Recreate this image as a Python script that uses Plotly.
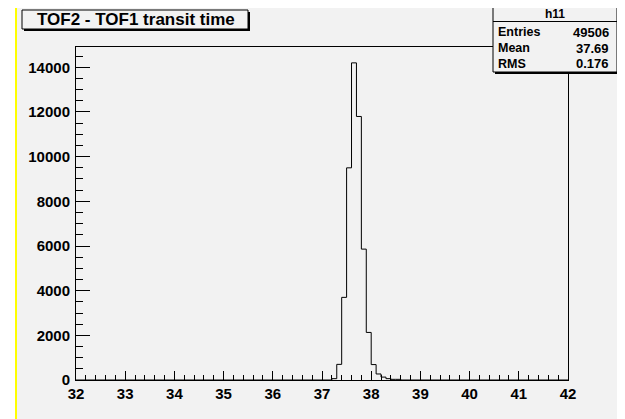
import plotly.graph_objects as go

# ---- data ----
title_text = "TOF2 - TOF1 transit time"
hist_name = "h11"
stats_labels = ["Entries", "Mean", "RMS"]
stats_values = ["49506", "37.69", "0.176"]

x_min, x_max = 32.0, 42.0
bin_width = 0.1
# lower edges of non-empty bins and their contents
bin_low = [37.2, 37.3, 37.4, 37.5, 37.6, 37.7, 37.8, 37.9, 38.0, 38.1, 38.2, 38.3, 38.4, 38.5]
counts = [60, 700, 3700, 9500, 14200, 11800, 5860, 2130, 690, 270, 130, 60, 30, 30]

y_max = max(counts) * 1.05

# ---- build histogram outline (step line) ----
xs = [x_min]
ys = [0]
for lo, c in zip(bin_low, counts):
    xs.append(round(lo, 2))
    ys.append(c)
xs.append(round(bin_low[-1] + bin_width, 2))
ys.append(0)
xs.append(x_max)
ys.append(0)

fig = go.Figure()
fig.add_trace(go.Scatter(x=xs, y=ys, mode="lines", line=dict(shape="hv", color="black", width=1),
                         hoverinfo="skip", showlegend=False))

# ---- layout geometry (window pixels; page body has an 8px margin) ----
OFF = 8
W_FIG, H_FIG = 625 - OFF, 419 - OFF
L, R, T, B = 76, 568, 47, 380   # plot frame in window pixels
PW, PH = R - L, B - T


def px(x):
    return (x - L) / PW


def py(y):
    return (B - y) / PH


BG = "#f2f2f2"
FONT = "Liberation Sans"

shapes = []
# gray pad area
shapes.append(dict(type="rect", xref="paper", yref="paper", x0=px(16), x1=px(640), y0=py(5), y1=py(440),
                   line=dict(width=0), fillcolor=BG, layer="below"))
# yellow pad border (left and top)
shapes.append(dict(type="line", xref="paper", yref="paper", x0=px(16), x1=px(16), y0=py(5), y1=py(440),
                   line=dict(color="#ffff00", width=2)))
shapes.append(dict(type="line", xref="paper", yref="paper", x0=px(16), x1=px(640), y0=py(5), y1=py(5),
                   line=dict(color="#ffff00", width=2)))

# title box with shadow
shapes.append(dict(type="rect", xref="paper", yref="paper", x0=px(24), x1=px(250), y0=py(31), y1=py(12),
                   line=dict(width=0), fillcolor="black"))
shapes.append(dict(type="rect", xref="paper", yref="paper", x0=px(22), x1=px(248), y0=py(29), y1=py(10),
                   line=dict(color="black", width=1), fillcolor=BG))

# stats box with shadow
shapes.append(dict(type="rect", xref="paper", yref="paper", x0=px(495), x1=px(619), y0=py(74), y1=py(8),
                   line=dict(width=0), fillcolor="black"))
shapes.append(dict(type="rect", xref="paper", yref="paper", x0=px(493), x1=px(617), y0=py(72), y1=py(6),
                   line=dict(color="black", width=1), fillcolor=BG))
shapes.append(dict(type="line", xref="paper", yref="paper", x0=px(493), x1=px(617), y0=py(21.5), y1=py(21.5),
                   line=dict(color="black", width=1)))

annotations = []
annotations.append(dict(xref="paper", yref="paper", x=px(136), y=py(19.5), xanchor="center", yanchor="middle",
                        text=title_text, showarrow=False, borderpad=0,
                        font=dict(family=FONT, size=17, color="black", weight="bold")))
annotations.append(dict(xref="paper", yref="paper", x=px(555), y=py(14), xanchor="center", yanchor="middle",
                        text=hist_name, showarrow=False, borderpad=0,
                        font=dict(family=FONT, size=12, color="black", weight="bold")))
row_y = [32, 48.5, 64]
for lab, val, yy in zip(stats_labels, stats_values, row_y):
    annotations.append(dict(xref="paper", yref="paper", x=px(497), y=py(yy), xanchor="left", yanchor="middle",
                            text=lab, showarrow=False, borderpad=0,
                            font=dict(family=FONT, size=12.5, color="black", weight="bold")))
    annotations.append(dict(xref="paper", yref="paper", x=px(610), y=py(yy), xanchor="right", yanchor="middle",
                            text=val, showarrow=False, borderpad=0,
                            font=dict(family=FONT, size=13, color="black", weight="bold")))

tickfont = dict(family=FONT, size=15, color="black", weight="bold")

fig.update_layout(
    width=W_FIG, height=H_FIG,
    margin=dict(l=L - OFF, r=625 - R, t=T - OFF, b=419 - B, pad=0),
    paper_bgcolor="white", plot_bgcolor=BG,
    showlegend=False,
    shapes=shapes,
    annotations=annotations,
    xaxis=dict(range=[x_min, x_max], dtick=1, tick0=32, ticks="inside", ticklen=9, tickwidth=1, tickcolor="black",
               minor=dict(dtick=0.2, ticks="inside", ticklen=5, tickcolor="black", showgrid=False),
               showline=True, linecolor="black", linewidth=1, mirror=True, showgrid=False, zeroline=False,
               tickfont=tickfont, ticklabelstandoff=0),
    yaxis=dict(range=[0, y_max], dtick=2000, tick0=0, tickformat="d", ticks="inside", ticklen=14, tickwidth=1,
               tickcolor="black",
               minor=dict(dtick=500, ticks="inside", ticklen=7, tickcolor="black", showgrid=False),
               showline=True, linecolor="black", linewidth=1, mirror=True, showgrid=False, zeroline=False,
               tickfont=tickfont, ticklabelstandoff=2),
)

fig.write_html("out.html")
